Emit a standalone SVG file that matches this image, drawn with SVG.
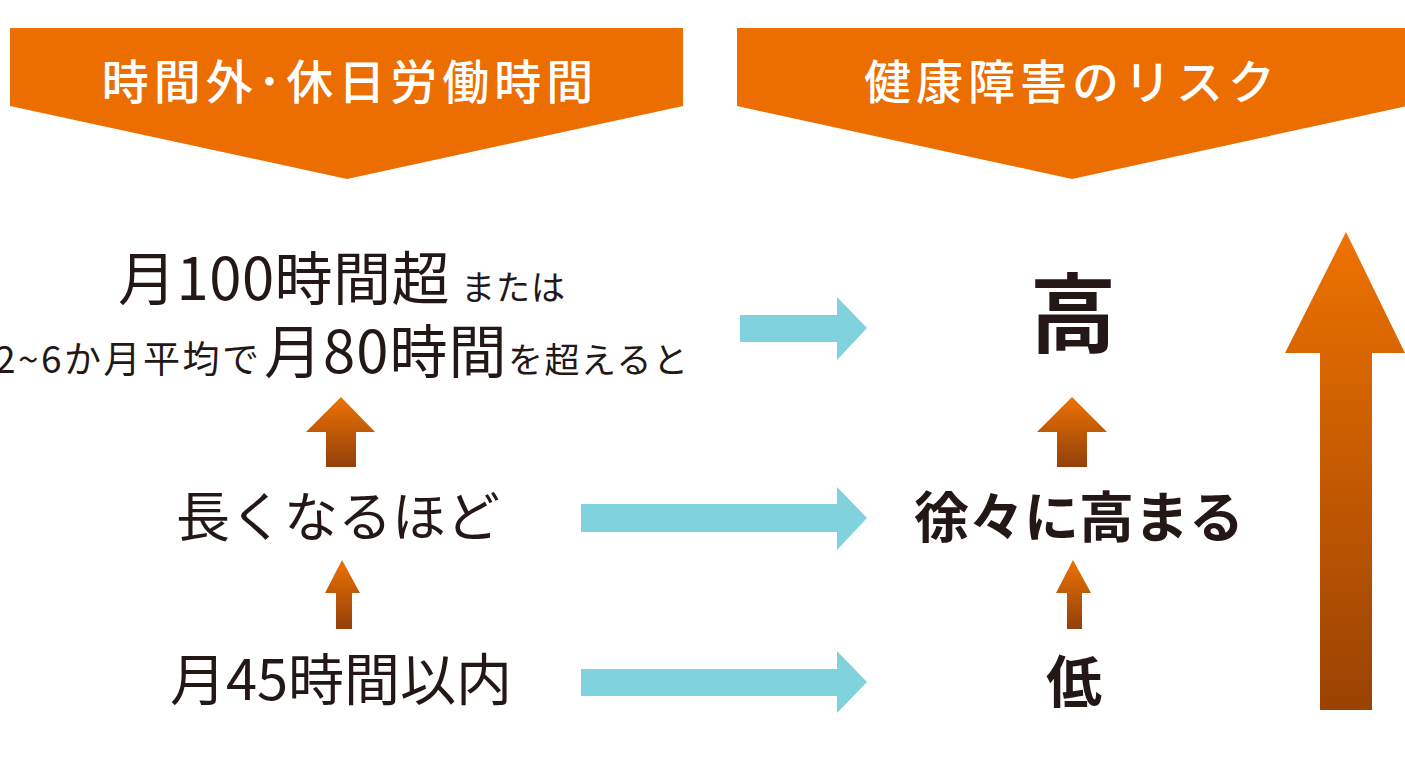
<svg xmlns="http://www.w3.org/2000/svg" width="1405" height="759" viewBox="0 0 1405 759">
<style>
.ban{fill:#ec6d00}
.bt{font-family:"Noto Sans CJK JP","Noto Sans",sans-serif;fill:#fff;font-size:47px;font-weight:500;text-anchor:middle;letter-spacing:5px}
.lt{font-family:"Noto Sans CJK JP","Noto Sans",sans-serif;fill:#231815;font-weight:400}
.rt{font-family:"Noto Sans CJK JP","Noto Sans",sans-serif;fill:#231815;font-weight:700;text-anchor:middle}
.blue{fill:#80d2dd}
.oa{fill:url(#og)}
</style>
<defs>
<linearGradient id="og" x1="0" y1="0" x2="0" y2="1">
<stop offset="0" stop-color="#ee7203"/>
<stop offset="1" stop-color="#92400a"/>
</linearGradient>
<linearGradient id="bg" x1="0" y1="0" x2="0" y2="1">
<stop offset="0" stop-color="#ee7200"/>
<stop offset="1" stop-color="#9a4203"/>
</linearGradient>
</defs>
<g id="banner-left">
<polygon class="ban" points="10,28 683,28 683,106 347,179 10,106"/>
<text class="bt" x="350" y="99">時間外･休日労働時間</text>
</g>
<g id="banner-right">
<polygon class="ban" points="737,28 1407,28 1407,106 1072,179 737,106"/>
<text class="bt" x="1072" y="99">健康障害のリスク</text>
</g>
<g id="node-100h">
<text class="lt" y="300"><tspan x="118" font-size="58" letter-spacing="0.5">月100時間超</tspan><tspan x="461" font-size="34" letter-spacing="1">または</tspan></text>
<text class="lt" y="373"><tspan x="-5" font-size="37" letter-spacing="2.5">2~6か月平均で</tspan><tspan x="264" font-size="58" letter-spacing="1">月80時間</tspan><tspan x="508" font-size="35" letter-spacing="1.5">を超えると</tspan></text>
</g>
<g id="node-nagaku">
<text class="lt" x="338" y="537" font-size="54" text-anchor="middle">長くなるほど</text>
</g>
<g id="node-45h">
<text class="lt" x="341" y="700" font-size="56" text-anchor="middle">月45時間以内</text>
</g>
<g id="node-high">
<text class="rt" x="1073" y="346" font-size="86">高</text>
</g>
<g id="node-gradual">
<text class="rt" x="1079" y="537" font-size="55">徐々に高まる</text>
</g>
<g id="node-low">
<text class="rt" x="1074" y="702" font-size="56">低</text>
</g>
<g id="connectors">
<polygon class="blue" points="740,315 837,315 837,297 867,328 837,360 837,342 740,342"/>
<polygon class="blue" points="581,504 837,504 837,487 867,518 837,550 837,532 581,532"/>
<polygon class="blue" points="581,669 837,669 837,651 867,682 837,713 837,696 581,696"/>
<polygon class="oa" points="341,397 375,432 356,432 356,467 326,467 326,432 306,432"/>
<polygon class="oa" points="342,560 360,593 352,593 352,629 336,629 336,593 325,593"/>
<polygon class="oa" points="1072,397 1107,432 1087,432 1087,467 1057,467 1057,432 1037,432"/>
<polygon class="oa" points="1073,560 1091,593 1082,593 1082,629 1067,629 1067,593 1056,593"/>
<polygon fill="url(#bg)" points="1346,232 1405,353 1372,353 1372,710 1320,710 1320,353 1285,353"/>
</g>
</svg>
